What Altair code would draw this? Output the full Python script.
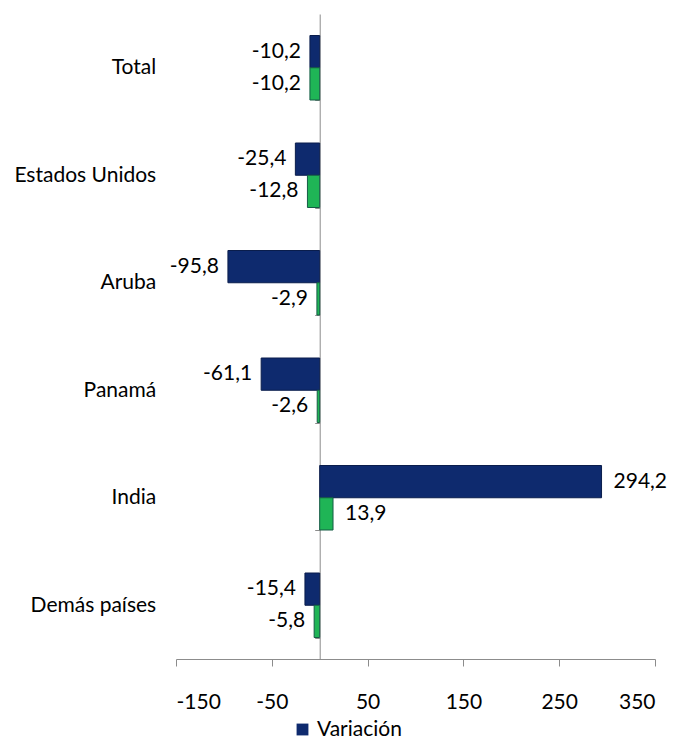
import altair as alt
import pandas as pd

categories = ["Total", "Estados Unidos", "Aruba", "Panamá", "India", "Demás países"]
variacion = [-10.2, -25.4, -95.8, -61.1, 294.2, -15.4]
contribucion = [-10.2, -12.8, -2.9, -2.6, 13.9, -5.8]
series = ["Variación", "Contribución"]
x_ticks = [-150, -50, 50, 150, 250, 350]

rows = []
for c, v1, v2 in zip(categories, variacion, contribucion):
    for s, v in zip(series, [v1, v2]):
        rows.append({"cat": c, "serie": s, "valor": v,
                     "label": f"{v:.1f}".replace(".", ",")})
df = pd.DataFrame(rows)

FONT = "Lato"
FS = 21
W, H = 479, 645
zero_px = 150 / 500 * W

y_enc = alt.Y("cat:N", sort=categories,
              scale=alt.Scale(paddingInner=0.4, paddingOuter=0.2),
              axis=alt.Axis(title=None, offset=-zero_px, domainColor="#8c8c8c",
                            tickColor="#8c8c8c", tickBand="extent", tickSize=5,
                            labelPadding=159, labelFont=FONT, labelFontSize=FS,
                            labelColor="black", grid=False))
yoff = alt.YOffset("serie:N", sort=series,
                   scale=alt.Scale(paddingInner=0, paddingOuter=0))
x_enc = alt.X("valor:Q", scale=alt.Scale(domain=[-150, 350], nice=False, zero=False),
              axis=alt.Axis(title=None, values=x_ticks, grid=False,
                            labelExpr="'' + datum.value",
                            domainColor="#8c8c8c", tickColor="#8c8c8c", tickSize=7,
                            labelPadding=25, labelFont=FONT, labelFontSize=FS,
                            labelColor="black"))

base = alt.Chart(df).encode(y=y_enc, yOffset=yoff)

bars = base.mark_bar(strokeWidth=1).encode(
    x=x_enc,
    color=alt.Color("serie:N",
                    scale=alt.Scale(domain=series, range=["#0e2a6e", "#1fb556"]),
                    legend=alt.Legend(values=["Variación"], title=None, orient="none",
                                      legendX=116, legendY=705, symbolType="square",
                                      symbolSize=140, labelFont=FONT, labelFontSize=FS,
                                      labelColor="black", symbolStrokeWidth=0)),
    stroke=alt.Stroke("serie:N",
                      scale=alt.Scale(domain=series, range=["#0a1d4c", "#145c45"]),
                      legend=None),
)

text_neg = base.mark_text(align="right", baseline="middle", dx=-9,
                          font=FONT, fontSize=FS, color="black").encode(
    x=alt.X("valor:Q"), text="label:N").transform_filter("datum.valor < 0")
text_pos = base.mark_text(align="left", baseline="middle", dx=12,
                          font=FONT, fontSize=FS, color="black").encode(
    x=alt.X("valor:Q"), text="label:N").transform_filter("datum.valor >= 0")

chart = alt.layer(bars, text_neg, text_pos).properties(
    width=W, height=H,
    autosize=alt.AutoSizeParams(type="none"),
    padding={"left": 168, "top": 6, "right": 17, "bottom": 85},
    background="white",
).configure_view(stroke=None)

chart.save("out.html", embed_options={"renderer": "svg", "actions": False})
